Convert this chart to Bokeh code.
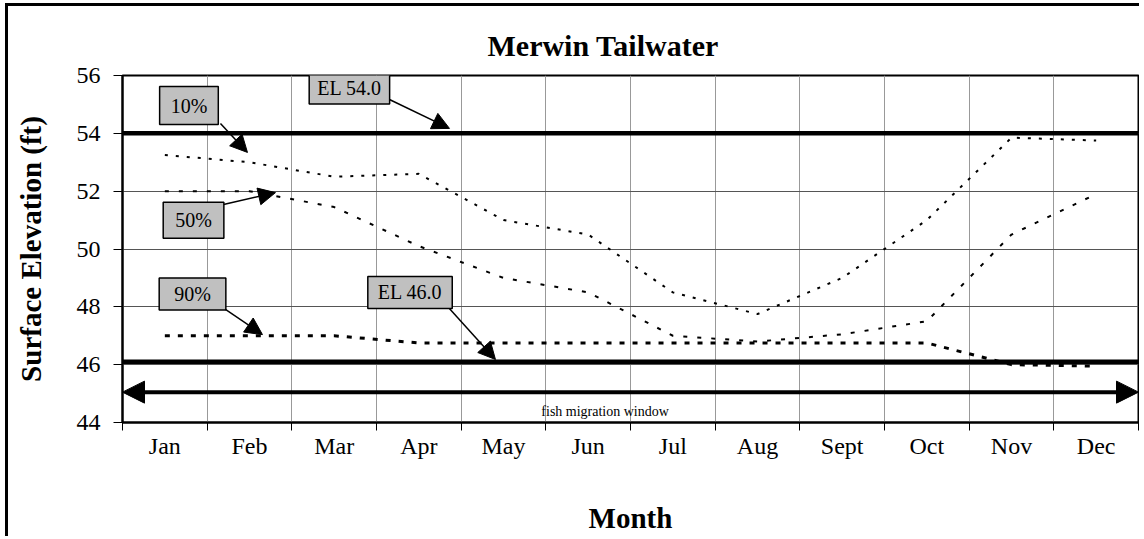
from bokeh.plotting import figure
from bokeh.models import Range1d, FixedTicker, Span, Arrow, NormalHead, Label, Title
from bokeh.embed import file_html
from bokeh.resources import INLINE

# ---- data ----
months = ["Jan", "Feb", "Mar", "Apr", "May", "Jun", "Jul", "Aug", "Sept", "Oct", "Nov", "Dec"]
elev_10 = [53.25, 53.0, 52.5, 52.6, 51.0, 50.5, 48.5, 47.75, 49.0, 51.0, 53.85, 53.75]
elev_50 = [52.0, 52.0, 51.45, 50.1, 49.0, 48.5, 47.0, 46.8, 47.05, 47.5, 50.5, 51.9]
elev_90 = [47.0, 47.0, 47.0, 46.75, 46.75, 46.75, 46.75, 46.75, 46.75, 46.75, 46.0, 45.95]
y_ticks = [44, 46, 48, 50, 52, 54, 56]
el_levels = [54.0, 46.1]
fish_window_elev = 45.05

FONT = "Liberation Serif"

x_centers = [i + 0.5 for i in range(len(months))]

p = figure(width=1134, height=533, output_backend="svg", toolbar_location=None,
           x_range=Range1d(0, len(months)), y_range=Range1d(min(y_ticks), max(y_ticks)),
           min_border_left=114, min_border_right=4, min_border_top=69, min_border_bottom=117)
p.styles = {"border-left": "3px solid black", "border-top": "3px solid black",
            "margin-left": "5px", "margin-top": "3px"}
p.background_fill_color = "white"
p.border_fill_color = "white"
p.outline_line_color = "black"
p.outline_line_width = 2

p.title = Title(text="Merwin Tailwater", align="left", offset=365, standoff=27,
                text_font=FONT, text_font_size="30px", text_font_style="bold",
                text_color="black")

# x axis: labels between tick marks
p.xaxis.ticker = FixedTicker(ticks=x_centers, minor_ticks=list(range(len(months) + 1)))
p.xaxis.major_label_overrides = {x: m for x, m in zip(x_centers, months)}
p.xaxis.major_tick_out = 0
p.xaxis.major_tick_in = 0
p.xaxis.minor_tick_out = 8
p.xaxis.minor_tick_in = 0
p.xaxis.minor_tick_line_color = "black"
p.xaxis.axis_line_width = 2
p.xaxis.axis_line_color = "black"
p.xaxis.major_label_text_font = FONT
p.xaxis.major_label_text_font_size = "24px"
p.xaxis.major_label_text_color = "black"
p.xaxis.major_label_standoff = 2
p.xaxis.axis_label = "Month"
p.xaxis.axis_label_text_font = FONT
p.xaxis.axis_label_text_font_size = "29px"
p.xaxis.axis_label_text_font_style = "bold"
p.xaxis.axis_label_text_color = "black"
p.xaxis.axis_label_standoff = 40

p.yaxis.ticker = FixedTicker(ticks=y_ticks, minor_ticks=[])
p.yaxis.major_tick_out = 9
p.yaxis.major_tick_in = 0
p.yaxis.major_tick_line_color = "black"
p.yaxis.axis_line_width = 2
p.yaxis.axis_line_color = "black"
p.yaxis.major_label_text_font = FONT
p.yaxis.major_label_text_font_size = "24px"
p.yaxis.major_label_text_color = "black"
p.yaxis.major_label_standoff = 13
p.yaxis.axis_label = "Surface Elevation (ft)"
p.yaxis.axis_label_text_font = FONT
p.yaxis.axis_label_text_font_size = "29px"
p.yaxis.axis_label_text_font_style = "bold"
p.yaxis.axis_label_text_color = "black"
p.yaxis.axis_label_standoff = 27

p.xgrid.ticker = FixedTicker(ticks=list(range(1, len(months))))
p.xgrid.grid_line_color = "#999999"
p.xgrid.grid_line_width = 1
p.ygrid.ticker = FixedTicker(ticks=y_ticks)
p.ygrid.grid_line_color = "#555555"
p.ygrid.grid_line_width = 1

# exceedance curves
p.line(x_centers, elev_10, line_color="black", line_width=2, line_dash="3 8")
p.line(x_centers, elev_50, line_color="black", line_width=2, line_dash="4 10")
p.line(x_centers, elev_90, line_color="black", line_width=3, line_dash="5 8")

# elevation limits
for lvl in el_levels:
    p.add_layout(Span(location=lvl, dimension="width", line_color="black", line_width=4.5))

# fish migration window
p.add_layout(Arrow(start=NormalHead(size=22, fill_color="black", line_color="black"),
                   end=NormalHead(size=22, fill_color="black", line_color="black"),
                   x_start=0, x_end=len(months), y_start=fish_window_elev, y_end=fish_window_elev,
                   line_width=4, line_color="black"))
p.add_layout(Label(x=5.7, y=44.38, text="fish migration window", text_align="center",
                   text_baseline="middle", text_font=FONT, text_font_size="14px",
                   text_color="black"))

# callouts: (text, box x, box y, arrow start x, y, arrow end x, y, padding)
callouts = [
    ("10%", 0.785, 54.96, 1.157, 54.34, 1.476, 53.34, (11, 8)),
    ("EL 54.0", 2.68, 55.57, 3.153, 55.17, 3.862, 54.17, (8, 5)),
    ("50%", 0.839, 50.99, 1.193, 51.54, 1.807, 51.95, (12, 7)),
    ("90%", 0.827, 48.44, 1.216, 47.91, 1.653, 47.04, (15, 5)),
    ("EL 46.0", 3.396, 48.50, 3.85, 47.98, 4.405, 46.18, (10, 5)),
]
for txt, bx, by, sx, sy, ex, ey, pad in callouts:
    p.add_layout(Arrow(end=NormalHead(size=17, fill_color="black", line_color="black"),
                       x_start=sx, y_start=sy, x_end=ex, y_end=ey,
                       line_width=1.5, line_color="black"))
    p.add_layout(Label(x=bx, y=by, text=txt, text_align="center", text_baseline="middle",
                       text_font=FONT, text_font_size="20px", text_color="black",
                       background_fill_color="#c0c0c0", border_line_color="black",
                       border_line_width=1.5, padding=pad))

open("out.html", "w").write(file_html(p, INLINE))
